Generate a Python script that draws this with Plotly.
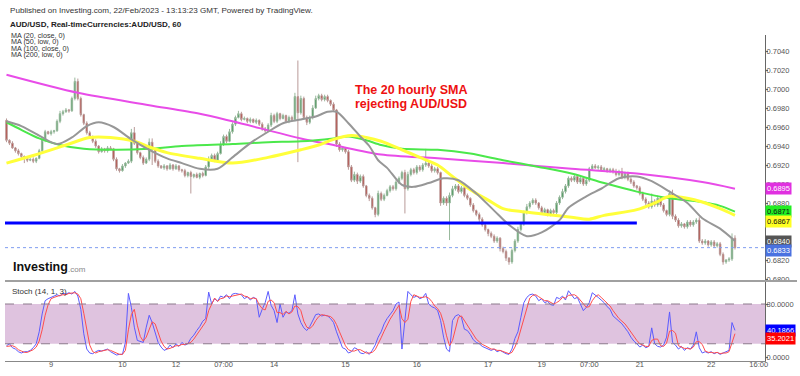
import plotly.graph_objects as go

FONT = "Arial, 'Liberation Sans', sans-serif"

# ---------------- data ----------------
first_open = 0.6967
closes = [
    0.6946, 0.6943, 0.6938, 0.6935, 0.6932, 0.6929, 0.6927, 0.6925, 0.6926, 0.6924,
    0.6927, 0.6935, 0.6946, 0.6955, 0.6953, 0.6955, 0.6956, 0.6966, 0.6974, 0.6976,
    0.6978, 0.6977, 0.6990, 0.7008, 0.6990, 0.6973, 0.6964, 0.6954, 0.6950, 0.6945,
    0.6940, 0.6934, 0.6937, 0.6935, 0.6938, 0.6937, 0.6926, 0.6916, 0.6914, 0.6919,
    0.6922, 0.6924, 0.6954, 0.6943, 0.6933, 0.6928, 0.6922, 0.6926, 0.6944, 0.6937,
    0.6924, 0.6919, 0.6917, 0.6919, 0.6916, 0.6920, 0.6916, 0.6919, 0.6915, 0.6914,
    0.6909, 0.6912, 0.6908, 0.6910, 0.6907, 0.6911, 0.6909, 0.6918, 0.6926, 0.6930,
    0.6925, 0.6932, 0.6942, 0.6950, 0.6945, 0.6955, 0.6963, 0.6970, 0.6974, 0.6968,
    0.6969, 0.6966, 0.6968, 0.6965, 0.6967, 0.6963, 0.6958, 0.6956, 0.6962, 0.6972,
    0.6966, 0.6974, 0.6969, 0.6972, 0.6966, 0.6970, 0.6968, 0.6992, 0.6975, 0.6990,
    0.6970, 0.6965, 0.6970, 0.6980, 0.6990, 0.6993, 0.6989, 0.6992, 0.6988, 0.6984,
    0.6978, 0.6942, 0.6936, 0.6938, 0.6934, 0.6918, 0.6904, 0.6910, 0.6903, 0.6908,
    0.6898, 0.6888, 0.6885, 0.6875, 0.6868, 0.6890, 0.6884, 0.6888, 0.6893, 0.6897,
    0.6895, 0.6902, 0.6906, 0.6912, 0.6895, 0.6910, 0.6915, 0.6912, 0.6918, 0.6915,
    0.6920, 0.6922, 0.6919, 0.6914, 0.6916, 0.6912, 0.6880, 0.6885, 0.6880, 0.6888,
    0.6895, 0.6898, 0.6892, 0.6896, 0.6888, 0.6885, 0.6878, 0.6872, 0.6868, 0.6863,
    0.6857, 0.6852, 0.6848, 0.6845, 0.6840, 0.6843, 0.6832, 0.6829, 0.6822, 0.6818,
    0.6830, 0.6840, 0.6852, 0.6858, 0.6870, 0.6876, 0.6880, 0.6883, 0.6880, 0.6875,
    0.6870, 0.6873, 0.6868, 0.6872, 0.6870, 0.6880, 0.6886, 0.6892, 0.6898, 0.6906,
    0.6904, 0.6908, 0.6902, 0.6906, 0.6900, 0.6904, 0.6916, 0.6919, 0.6917, 0.6918,
    0.6915, 0.6916, 0.6914, 0.6915, 0.6913, 0.6910, 0.6913, 0.6907, 0.6911, 0.6905,
    0.6902, 0.6898, 0.6896, 0.6890, 0.6884, 0.6880, 0.6876, 0.6882, 0.6878, 0.6885,
    0.6878, 0.6872, 0.6868, 0.6890, 0.6866, 0.6862, 0.6856, 0.6858, 0.6855, 0.6860,
    0.6857, 0.6860, 0.6862, 0.6840, 0.6838, 0.6840, 0.6836, 0.6839, 0.6835, 0.6837,
    0.6826, 0.6818, 0.6820, 0.6821, 0.6843, 0.6833,
]
# wick lengths in pips above / below the candle body
upper_wick_pips = [
    2, 1, 2, 1, 2, 1, 1, 2, 1, 2, 1, 2, 3, 2, 1, 2, 1, 2, 3, 2,
    2, 1, 2, 4, 3, 2, 1, 2, 2, 1, 2, 1, 2, 1, 2, 2, 1, 2, 1, 2,
    1, 2, 4, 6, 2, 1, 2, 2, 4, 4, 1, 2, 1, 2, 1, 2, 1, 2, 1, 1,
    2, 1, 2, 1, 2, 1, 2, 2, 3, 2, 2, 2, 3, 2, 2, 3, 2, 2, 3, 2,
    2, 1, 2, 1, 2, 1, 2, 2, 2, 3, 2, 2, 1, 2, 1, 2, 2, 4, 38, 3,
    2, 2, 2, 3, 3, 2, 2, 2, 2, 1, 2, 1, 2, 2, 1, 2, 2, 3, 2, 2,
    2, 1, 2, 2, 1, 3, 2, 2, 2, 2, 2, 2, 2, 2, 3, 3, 2, 2, 2, 2,
    2, 15, 2, 2, 2, 2, 1, 2, 2, 3, 3, 2, 2, 2, 2, 2, 1, 2, 1, 2,
    2, 2, 1, 2, 2, 2, 1, 2, 2, 1, 2, 2, 3, 2, 2, 3, 2, 2, 2, 1,
    2, 2, 1, 2, 2, 2, 2, 3, 2, 2, 2, 2, 2, 2, 2, 3, 2, 2, 2, 2,
    2, 2, 1, 2, 2, 3, 2, 4, 2, 2, 2, 2, 1, 2, 2, 2, 2, 8, 2, 3,
    2, 2, 1, 3, 4, 2, 2, 2, 1, 2, 2, 2, 2, 3, 2, 2, 1, 2, 2, 2,
    2, 2, 1, 2, 5, 3,
]
lower_wick_pips = [
    2, 2, 1, 2, 2, 2, 5, 2, 1, 2, 2, 1, 2, 2, 1, 2, 2, 1, 2, 2,
    1, 2, 1, 2, 2, 2, 2, 2, 1, 2, 2, 2, 1, 2, 2, 1, 2, 2, 2, 1,
    2, 1, 2, 2, 2, 2, 2, 1, 2, 17, 2, 2, 1, 2, 2, 1, 2, 1, 2, 2,
    2, 2, 18, 2, 1, 2, 2, 1, 2, 2, 2, 2, 1, 2, 2, 1, 2, 2, 1, 2,
    1, 2, 2, 1, 2, 2, 2, 2, 1, 2, 2, 2, 2, 1, 2, 2, 2, 2, 52, 2,
    2, 3, 2, 2, 1, 2, 2, 2, 2, 2, 2, 3, 2, 2, 2, 3, 2, 2, 3, 2,
    2, 2, 3, 2, 3, 2, 2, 2, 1, 2, 2, 2, 2, 2, 26, 2, 2, 2, 2, 2,
    2, 2, 2, 2, 2, 2, 3, 2, 3, 39, 2, 2, 2, 2, 2, 2, 2, 2, 2, 3,
    2, 2, 3, 2, 2, 2, 3, 2, 3, 3, 2, 2, 2, 2, 2, 2, 2, 2, 2, 2,
    2, 2, 2, 2, 2, 2, 2, 2, 2, 2, 2, 2, 2, 2, 2, 2, 2, 2, 1, 2,
    2, 2, 2, 2, 2, 2, 2, 2, 2, 2, 2, 2, 2, 2, 2, 3, 2, 2, 2, 2,
    2, 2, 2, 2, 3, 2, 2, 2, 2, 2, 2, 2, 2, 2, 2, 2, 2, 2, 2, 2,
    2, 3, 2, 2, 2, 2,
]

# moving averages: (bar, value)
ma20_bars = [1, 6, 12, 18, 23, 28, 32, 37, 43, 49, 55, 60, 66, 72, 77, 83, 89, 94, 100, 105,
             109, 112, 116, 120, 123, 126, 129, 134, 138, 143, 148, 153, 159, 165, 170, 176,
             181, 187, 190, 196, 201, 207, 213, 218, 224, 230, 235, 241, 246]
ma20_vals = [0.6966, 0.6961, 0.6951, 0.6942, 0.6949, 0.6961, 0.6965, 0.6960, 0.6947, 0.6936,
             0.6927, 0.6922, 0.6916, 0.6916, 0.6928, 0.6943, 0.6955, 0.6964, 0.6968, 0.6971,
             0.6976, 0.6976, 0.6964, 0.6950, 0.6940, 0.6925, 0.6917, 0.6899, 0.6897, 0.6901,
             0.6906, 0.6904, 0.6890, 0.6872, 0.6857, 0.6845, 0.6849, 0.6862, 0.6875, 0.6887,
             0.6895, 0.6906, 0.6908, 0.6903, 0.6892, 0.6880, 0.6864, 0.6853, 0.6840]
ma50_bars = [1, 10, 21, 29, 36, 44, 49, 55, 66, 77, 89, 100, 106, 111, 117, 122, 127, 134, 140,
             146, 151, 157, 163, 168, 174, 180, 185, 191, 197, 202, 213, 219, 224, 230, 235,
             241, 246]
ma50_vals = [0.6922, 0.6930, 0.6941, 0.6949, 0.6949, 0.6945, 0.6939, 0.6933, 0.6927, 0.6922,
             0.6928, 0.6936, 0.6941, 0.6947, 0.6951, 0.6949, 0.6945, 0.6936, 0.6928, 0.6920,
             0.6908, 0.6894, 0.6883, 0.6874, 0.6871, 0.6869, 0.6867, 0.6865, 0.6863, 0.6867,
             0.6873, 0.6880, 0.6887, 0.6885, 0.6881, 0.6874, 0.6867]
ma100_bars = [1, 6, 12, 19, 27, 38, 49, 60, 77, 89, 100, 111, 116, 122, 127, 134, 146, 157,
              168, 180, 191, 202, 213, 224, 235, 241, 246]
ma100_vals = [0.6965, 0.6957, 0.6948, 0.6941, 0.6937, 0.6936, 0.6937, 0.6940, 0.6942, 0.6944,
              0.6945, 0.6948, 0.6950, 0.6946, 0.6941, 0.6937, 0.6936, 0.6932, 0.6925, 0.6918,
              0.6911, 0.6901, 0.6892, 0.6885, 0.6881, 0.6877, 0.6871]
ma200_bars = [1, 25, 49, 66, 77, 100, 111, 127, 146, 168, 191, 213, 235, 246]
ma200_vals = [0.7015, 0.6996, 0.6983, 0.6974, 0.6966, 0.6948, 0.6941, 0.6931, 0.6927, 0.6922,
              0.6916, 0.6911, 0.6902, 0.6895]

stoch_k = [
    17, 20, 14, 12, 8, 6, 8, 8, 10, 14, 20, 38, 65, 85, 88, 90, 93, 94, 92, 96,
    95, 97, 95, 99, 92, 72, 35, 12, 6, 5, 8, 10, 9, 11, 12, 8, 5, 3, 4, 4,
    22, 96, 75, 45, 25, 24, 22, 45, 63, 52, 36, 22, 15, 10, 12, 18, 14, 20, 16, 22,
    18, 20, 28, 33, 40, 46, 54, 58, 98, 80, 88, 84, 92, 90, 94, 88, 95, 96, 95, 94,
    88, 91, 86, 90, 88, 60, 72, 82, 99, 78, 70, 52, 80, 60, 68, 66, 70, 94, 65, 52,
    44, 40, 46, 55, 64, 65, 62, 63, 62, 58, 52, 38, 25, 14, 12, 6, 8, 14, 12, 6,
    5, 8, 4, 10, 18, 30, 38, 50, 58, 64, 70, 80, 83, 12, 60, 99, 94, 90, 92, 88,
    90, 96, 80, 76, 74, 70, 55, 30, 12, 8, 55, 62, 64, 60, 42, 40, 34, 26, 22, 20,
    16, 14, 13, 10, 12, 8, 10, 7, 5, 4, 12, 28, 38, 60, 82, 90, 94, 95, 92, 85,
    88, 82, 84, 79, 78, 90, 88, 92, 86, 100, 94, 88, 90, 80, 70, 75, 82, 97, 94, 90,
    86, 82, 76, 72, 62, 58, 55, 50, 44, 38, 30, 24, 20, 15, 18, 14, 16, 44, 20, 16,
    15, 18, 30, 68, 22, 18, 12, 16, 10, 14, 12, 18, 38, 14, 6, 8, 6, 8, 5, 7,
    4, 6, 8, 10, 52, 40.1866,
]
stoch_d = [
    16, 17, 17, 15, 11, 9, 7, 7, 9, 11, 15, 24, 41, 63, 79, 88, 90, 92, 93, 94,
    94, 96, 96, 97, 95, 88, 66, 40, 18, 8, 6, 8, 9, 10, 11, 10, 8, 5, 4, 4,
    10, 41, 64, 72, 48, 31, 24, 30, 43, 53, 50, 37, 24, 16, 12, 13, 15, 17, 17, 19,
    19, 20, 22, 27, 34, 40, 47, 53, 70, 79, 89, 84, 88, 89, 92, 91, 92, 93, 95, 95,
    92, 91, 88, 89, 88, 79, 73, 71, 84, 86, 82, 67, 67, 64, 69, 65, 68, 77, 76, 70,
    54, 45, 43, 47, 55, 61, 64, 63, 62, 61, 57, 49, 38, 26, 17, 11, 9, 9, 11, 11,
    8, 6, 6, 7, 11, 19, 29, 39, 49, 57, 64, 71, 78, 58, 52, 57, 84, 94, 92, 90,
    90, 91, 89, 84, 77, 73, 66, 52, 32, 17, 25, 42, 60, 62, 55, 47, 39, 33, 27, 23,
    19, 17, 14, 12, 12, 10, 10, 8, 7, 5, 7, 15, 26, 42, 60, 77, 89, 93, 94, 91,
    88, 85, 85, 82, 80, 82, 85, 90, 89, 93, 93, 94, 91, 86, 80, 75, 76, 85, 91, 94,
    90, 86, 81, 77, 70, 64, 58, 54, 50, 44, 37, 31, 25, 20, 18, 16, 16, 25, 27, 27,
    17, 16, 21, 39, 40, 36, 17, 15, 13, 13, 12, 15, 23, 23, 19, 9, 7, 7, 6, 7,
    5, 6, 6, 8, 23, 35.2021,
]

support_level = 0.6859
support_bars = [0.5, 213]

tick_bars = [16, 40, 58, 74, 91, 115, 139, 163, 181, 197, 214, 238, 254]
tick_labels = ["9", "10", "12", "07:00", "14", "15", "16", "17", "19", "07:00", "21", "22", "16:00"]
price_ticks = [0.6800, 0.6820, 0.6840, 0.6860, 0.6880, 0.6900, 0.6920, 0.6940,
               0.6960, 0.6980, 0.7000, 0.7020, 0.7040]
stoch_ticks = [0, 80]

assert len(closes) == len(upper_wick_pips) == len(lower_wick_pips) == len(stoch_k) == len(stoch_d), \
    (len(closes), len(upper_wick_pips), len(lower_wick_pips), len(stoch_k), len(stoch_d))

PIP = 0.0001
bars = list(range(1, len(closes) + 1))
opens = [first_open] + closes[:-1]
highs = [max(o, c) + u * PIP for o, c, u in zip(opens, closes, upper_wick_pips)]
lows = [min(o, c) - w * PIP for o, c, w in zip(opens, closes, lower_wick_pips)]

# ---------------- geometry helpers ----------------
W, H = 800, 376
L, R, T, B = 5, 35, 35, 15
PW, PH = W - L - R, H - T - B
SPLIT = 80 / PH  # stoch pane share


def xp(px):
    return (px - L) / PW


def yp(py):
    return (H - B - py) / PH


fig = go.Figure()

fig.add_trace(go.Candlestick(
    x=bars, open=opens, high=highs, low=lows, close=closes,
    increasing=dict(fillcolor="#2e8a46", line=dict(color="#98b89c", width=1)),
    decreasing=dict(fillcolor="#b3332b", line=dict(color="#b99a98", width=1)),
    whiskerwidth=0, showlegend=False, hoverinfo="skip", xaxis="x", yaxis="y"))

for bx, vals, col, wd in [
    (ma200_bars, ma200_vals, "#e84ce8", 2),
    (ma100_bars, ma100_vals, "#4be84b", 2),
    (ma50_bars, ma50_vals, "#ffff3a", 3),
    (ma20_bars, ma20_vals, "#979797", 2),
]:
    fig.add_trace(go.Scatter(x=bx, y=vals, mode="lines", line=dict(color=col, width=wd, shape="spline", smoothing=0.8),
                             showlegend=False, hoverinfo="skip", xaxis="x", yaxis="y"))

fig.add_trace(go.Scatter(x=support_bars, y=[support_level, support_level], mode="lines",
                         line=dict(color="#0000ff", width=3), showlegend=False, hoverinfo="skip",
                         xaxis="x", yaxis="y"))

fig.add_trace(go.Scatter(x=bars, y=stoch_k, mode="lines", line=dict(color="#5b5bff", width=1),
                         showlegend=False, hoverinfo="skip", xaxis="x", yaxis="y2"))
fig.add_trace(go.Scatter(x=bars, y=stoch_d, mode="lines", line=dict(color="#ff4d4d", width=1),
                         showlegend=False, hoverinfo="skip", xaxis="x", yaxis="y2"))

shapes = [
    dict(type="rect", xref="paper", x0=0, x1=1, yref="y2", y0=20, y1=80,
         fillcolor="#dfc3df", line=dict(width=0), layer="below"),
    dict(type="line", xref="paper", x0=0, x1=1, yref="y2", y0=80, y1=80,
         line=dict(color="#8c7a8c", width=1, dash="dash")),
    dict(type="line", xref="paper", x0=0, x1=1, yref="y2", y0=20, y1=20,
         line=dict(color="#8c7a8c", width=1, dash="dash")),
    dict(type="line", xref="paper", x0=0, x1=1, yref="y", y0=closes[-1], y1=closes[-1],
         line=dict(color="#7f9cf0", width=1, dash="dot")),
    dict(type="line", xref="paper", x0=0, x1=xp(797), yref="paper", y0=yp(281), y1=yp(281),
         line=dict(color="#a0a0a0", width=2)),
]

ann = []


def text(px, py, s, size=8, color="#333", bold=False, xanchor="left"):
    ann.append(dict(xref="paper", yref="paper", x=xp(px), y=yp(py), text=f"<b>{s}</b>" if bold else s,
                    showarrow=False, xanchor=xanchor, yanchor="middle", borderpad=0,
                    font=dict(family=FONT, size=size, color=color)))


text(9, 11, "Published on Investing.com, 22/Feb/2023 - 13:13:23 GMT, Powered by TradingView.", 8.1, "#333")
text(9, 25, "AUD/USD, Real-timeCurrencies:AUD/USD, 60", 8.0, "#222", bold=True)
for i, s in enumerate(["MA (20, close, 0)", "MA (50, low, 0)", "MA (100, close, 0)", "MA (200, low, 0)"]):
    text(10, 36 + 6 * i, s, 7.2, "#333")
text(354, 90, "The 20 hourly SMA", 12.5, "#ee1111", bold=True)
text(354, 104, "rejecting AUD/USD", 12.5, "#ee1111", bold=True)
text(12, 267, "Investing", 12.5, "#111", bold=True)
text(67, 269, ".com", 8, "#888")
text(11, 291, "Stoch (14, 1, 3)", 8, "#333")


def tag(val, yref, bg, fg, fmt, yshift=0):
    ann.append(dict(xref="paper", yref=yref, x=1, y=val, text=fmt.format(val), showarrow=False,
                    xanchor="left", yanchor="middle", bgcolor=bg, borderpad=1, yshift=yshift,
                    font=dict(family=FONT, size=7.5, color=fg)))


tag(ma200_vals[-1], "y", "#e030e0", "#ffffff", "{:.4f}")
tag(ma100_vals[-1], "y", "#22ee22", "#111111", "{:.4f}")
tag(ma50_vals[-1], "y", "#ffff22", "#111111", "{:.4f}", yshift=-6)
tag(ma20_vals[-1], "y", "#555555", "#ffffff", "{:.4f}")
tag(closes[-1], "y", "#4a72e0", "#ffffff", "{:.4f}", yshift=-3)
tag(stoch_k[-1], "y2", "#0000ff", "#ffffff", "{:.4f}")
tag(stoch_d[-1], "y2", "#ff0000", "#ffffff", "{:.4f}", yshift=-5)

main_top = 0.7 + (89 - T) / 9500
main_bot = main_top - (281 - T) / 9500
st_top = (357 - 281) / 0.6625
st_bot = (357 - 361) / 0.6625

yax_common = dict(side="right", showgrid=False, zeroline=False, showline=True, linecolor="#666",
                  linewidth=1, ticks="outside", ticklen=2, tickcolor="#666", automargin=False,
                  ticklabelstandoff=-3, tickfont=dict(size=7.5, color="#555"))

fig.update_layout(
    width=W, height=H, margin=dict(l=L, r=R, t=T, b=B, autoexpand=False),
    paper_bgcolor="white", plot_bgcolor="white", hovermode=False, showlegend=False,
    font=dict(family=FONT, size=8, color="#555"),
    xaxis=dict(domain=[0, 1], anchor="y2", range=[0.5, 256.1], rangeslider=dict(visible=False),
               tickmode="array", tickvals=tick_bars, ticktext=tick_labels, showgrid=False,
               zeroline=False, showline=True, linecolor="#888", linewidth=1, ticks="",
               automargin=False, ticklabelstandoff=-4,
               tickfont=dict(size=7.5, color="#555")),
    yaxis=dict(domain=[SPLIT, 1], anchor="x", range=[main_bot, main_top],
               tickmode="array", tickvals=price_ticks, ticktext=[f"{v:.4f}" for v in price_ticks],
               **yax_common),
    yaxis2=dict(domain=[0, SPLIT], anchor="x", range=[st_bot, st_top],
                tickmode="array", tickvals=stoch_ticks, ticktext=[f"{v:.4f}" for v in stoch_ticks],
                **yax_common),
    shapes=shapes, annotations=ann,
)

fig.write_html(
    "out.html",
    config={"displayModeBar": False, "staticPlot": True},
    post_script="document.body.style.margin='0';document.body.style.padding='0';"
                "document.documentElement.style.overflow='hidden';",
)
